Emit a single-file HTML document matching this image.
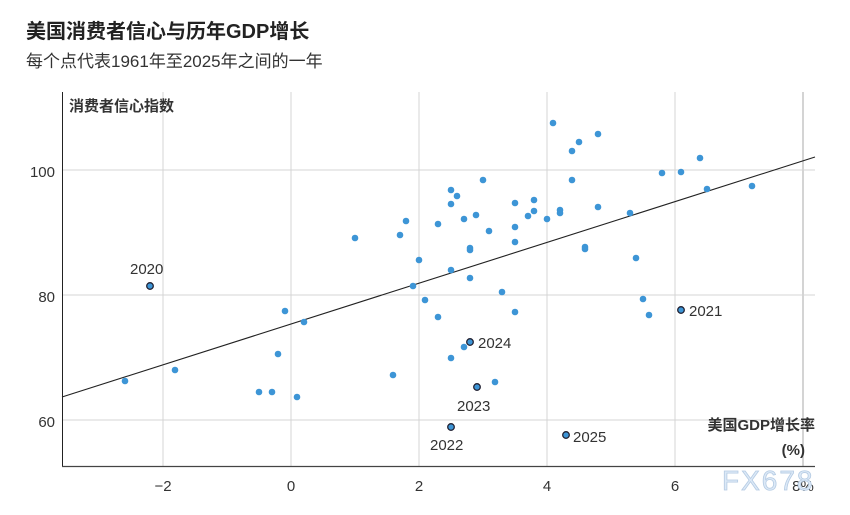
<!DOCTYPE html>
<html><head><meta charset="utf-8"><style>
body{margin:0;background:#fff;}
svg{display:block;font-family:"Liberation Sans","Noto Sans CJK SC",sans-serif;}
</style></head><body>
<svg width="850" height="515" viewBox="0 0 850 515" xmlns="http://www.w3.org/2000/svg">
<text x="26" y="38" font-size="20" font-weight="bold" fill="#222">美国消费者信心与历年GDP增长</text>
<text x="26" y="67" font-size="17" fill="#333">每个点代表1961年至2025年之间的一年</text>
<g stroke="#d4d4d4" stroke-width="1">
<line x1="163" y1="92" x2="163" y2="466"/><line x1="291" y1="92" x2="291" y2="466"/>
<line x1="419" y1="92" x2="419" y2="466"/><line x1="547" y1="92" x2="547" y2="466"/>
<line x1="675" y1="92" x2="675" y2="466"/><line x1="803" y1="92" x2="803" y2="466" stroke-width="2"/>
<line x1="62" y1="170" x2="815" y2="170"/><line x1="62" y1="295" x2="815" y2="295"/><line x1="62" y1="420" x2="815" y2="420"/>
</g>
<line x1="62.5" y1="92" x2="62.5" y2="466" stroke="#222" stroke-width="1"/>
<line x1="62" y1="466.5" x2="815" y2="466.5" stroke="#444" stroke-width="1.2"/>
<text x="69" y="111" font-size="15" font-weight="bold" fill="#333">消费者信心指数</text>
<g font-size="15" fill="#333" text-anchor="end">
<text x="55" y="177">100</text><text x="55" y="302">80</text><text x="55" y="427">60</text></g>
<g font-size="15" fill="#333" text-anchor="middle">
<text x="163" y="491">−2</text><text x="291" y="491">0</text><text x="419" y="491">2</text>
<text x="547" y="491">4</text><text x="675" y="491">6</text><text x="803" y="491">8%</text></g>
<line x1="62" y1="397" x2="815" y2="157" stroke="#222" stroke-width="1.1"/>
<g fill="#3d95d6">
<circle cx="125" cy="381" r="3.3"/><circle cx="175" cy="370" r="3.3"/><circle cx="259" cy="392" r="3.3"/><circle cx="272" cy="392" r="3.3"/><circle cx="297" cy="397" r="3.3"/><circle cx="278" cy="354" r="3.3"/><circle cx="285" cy="311" r="3.3"/><circle cx="304" cy="322" r="3.3"/>
<circle cx="355" cy="238" r="3.3"/><circle cx="393" cy="375" r="3.3"/><circle cx="400" cy="235" r="3.3"/><circle cx="406" cy="221" r="3.3"/><circle cx="419" cy="260" r="3.3"/><circle cx="413" cy="286" r="3.3"/><circle cx="425" cy="300" r="3.3"/><circle cx="438" cy="317" r="3.3"/><circle cx="438" cy="224" r="3.3"/><circle cx="451" cy="190" r="3.3"/><circle cx="457" cy="196" r="3.3"/><circle cx="451" cy="204" r="3.3"/><circle cx="464" cy="219" r="3.3"/><circle cx="476" cy="215" r="3.3"/><circle cx="483" cy="180" r="3.3"/><circle cx="489" cy="231" r="3.3"/><circle cx="470" cy="248" r="3.3"/><circle cx="470" cy="250" r="3.3"/><circle cx="451" cy="270" r="3.3"/><circle cx="470" cy="278" r="3.3"/><circle cx="502" cy="292" r="3.3"/><circle cx="515" cy="312" r="3.3"/><circle cx="515" cy="203" r="3.3"/><circle cx="515" cy="227" r="3.3"/><circle cx="515" cy="242" r="3.3"/><circle cx="534" cy="200" r="3.3"/><circle cx="534" cy="211" r="3.3"/><circle cx="528" cy="216" r="3.3"/><circle cx="547" cy="219" r="3.3"/><circle cx="553" cy="123" r="3.3"/><circle cx="560" cy="210" r="3.3"/><circle cx="560" cy="213" r="3.3"/><circle cx="572" cy="151" r="3.3"/><circle cx="579" cy="142" r="3.3"/><circle cx="598" cy="134" r="3.3"/><circle cx="572" cy="180" r="3.3"/><circle cx="598" cy="207" r="3.3"/><circle cx="585" cy="247" r="3.3"/><circle cx="585" cy="249" r="3.3"/><circle cx="630" cy="213" r="3.3"/><circle cx="636" cy="258" r="3.3"/>
<circle cx="451" cy="358" r="3.3"/><circle cx="464" cy="347" r="3.3"/><circle cx="495" cy="382" r="3.3"/>
<circle cx="643" cy="299" r="3.3"/><circle cx="649" cy="315" r="3.3"/><circle cx="662" cy="173" r="3.3"/><circle cx="681" cy="172" r="3.3"/><circle cx="700" cy="158" r="3.3"/><circle cx="707" cy="189" r="3.3"/><circle cx="752" cy="186" r="3.3"/>
</g>
<g fill="#3d95d6" stroke="#223" stroke-width="1.3">
<circle cx="150" cy="286" r="3.3"/><circle cx="681" cy="310" r="3.3"/><circle cx="470" cy="342" r="3.3"/><circle cx="477" cy="387" r="3.3"/><circle cx="451" cy="427" r="3.3"/><circle cx="566" cy="435" r="3.3"/>
</g>
<g font-size="15" fill="#333">
<text x="130" y="274">2020</text><text x="689" y="316">2021</text><text x="478" y="348">2024</text>
<text x="457" y="411">2023</text><text x="430" y="450">2022</text><text x="573" y="442">2025</text>
</g>
<text x="815" y="430" font-size="15" font-weight="bold" fill="#333" text-anchor="end">美国GDP增长率</text>
<text x="805" y="455" font-size="15" font-weight="bold" fill="#333" text-anchor="end">(%)</text>
<text x="722" y="490" font-size="28" fill="#dce9f7" stroke="#b5cbe3" stroke-width="0.8" letter-spacing="2">FX678</text>
</svg>
</body></html>
